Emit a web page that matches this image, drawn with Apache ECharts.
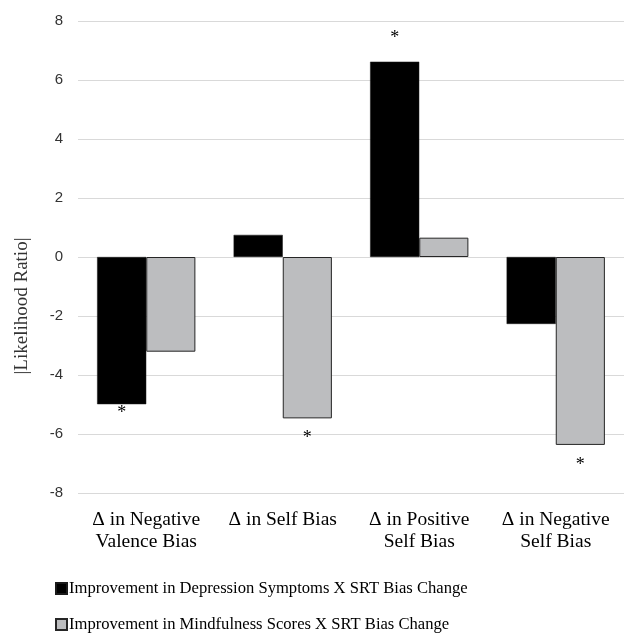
<!DOCTYPE html>
<html>
<head>
<meta charset="utf-8">
<script src="https://cdn.jsdelivr.net/npm/echarts@6/dist/echarts.min.js"></script>
<style>
html,body{margin:0;padding:0;background:#fff;}
#chart{width:624px;height:636px;}
</style>
</head>
<body>
<div id="chart"></div>
<script>
var categories = ['\u0394 in Negative\nValence Bias', '\u0394 in Self Bias', '\u0394 in Positive\nSelf Bias', '\u0394 in Negative\nSelf Bias'];
var seriesNames = ['Improvement in Depression Symptoms X SRT Bias Change', 'Improvement in Mindfulness Scores X SRT Bias Change'];
var depressionValues = [-4.99, 0.75, 6.62, -2.27];
var mindfulnessValues = [-3.21, -5.47, 0.655, -6.37];
var depressionSignificant = [true, false, true, false];
var mindfulnessSignificant = [false, true, false, true];
var yTicks = { min: -8, max: 8, interval: 2 };
var yTitle = '|Likelihood Ratio|';

var serif = '"Liberation Serif", "Times New Roman", serif';
var sans = '"Liberation Sans", Arial, sans-serif';

function buildData(values, sig, dists) {
  return values.map(function (v, i) {
    var item = { value: v };
    if (sig[i]) {
      item.label = {
        show: true,
        formatter: '*',
        position: v >= 0 ? 'top' : 'bottom',
        distance: dists[i],
        fontFamily: serif,
        fontSize: 18,
        color: '#000'
      };
    }
    return item;
  });
}

var chart = echarts.init(document.getElementById('chart'), null, { renderer: 'canvas' });
chart.setOption({
  animation: false,
  backgroundColor: '#fff',
  grid: { left: 78, right: -5, top: 21, bottom: 143, containLabel: false },
  legend: {
    orient: 'vertical',
    left: 55,
    top: 580,
    padding: 0,
    itemGap: 19,
    itemWidth: 11,
    itemHeight: 11,
    icon: 'rect',
    textStyle: { fontFamily: serif, fontSize: 16.6, color: '#000', padding: [0, 0, 0, -3] },
    data: seriesNames
  },
  xAxis: {
    type: 'category',
    data: categories,
    position: 'bottom',
    axisLine: { show: false, onZero: false },
    axisTick: { show: false },
    axisLabel: { fontFamily: serif, fontSize: 19.5, lineHeight: 22, color: '#000', margin: 16, interval: 0 }
  },
  yAxis: {
    type: 'value',
    min: yTicks.min,
    max: yTicks.max,
    interval: yTicks.interval,
    axisLine: { show: false },
    axisTick: { show: false },
    axisLabel: { fontFamily: sans, fontSize: 15, color: '#333333', margin: 15 },
    splitLine: { lineStyle: { color: '#d9d9d9', width: 1 } }
  },
  graphic: [{
    type: 'text',
    x: 22,
    y: 306,
    rotation: Math.PI / 2,
    style: {
      text: yTitle,
      fontFamily: serif,
      fontSize: 19,
      fill: '#333333',
      align: 'center',
      verticalAlign: 'middle'
    }
  }],
  series: [
    {
      name: seriesNames[0],
      type: 'bar',
      barGap: '0%',
      barCategoryGap: '28%',
      itemStyle: { color: '#000000', borderColor: '#1a1a1a', borderWidth: 0.5 },
      data: buildData(depressionValues, depressionSignificant, [0, 0, 14, 0])
    },
    {
      name: seriesNames[1],
      type: 'bar',
      barGap: '0%',
      barCategoryGap: '28%',
      itemStyle: { color: '#bcbdbf', borderColor: '#262626', borderWidth: 1 },
      data: buildData(mindfulnessValues, mindfulnessSignificant, [0, 11, 0, 11])
    }
  ]
});
</script>
</body>
</html>
